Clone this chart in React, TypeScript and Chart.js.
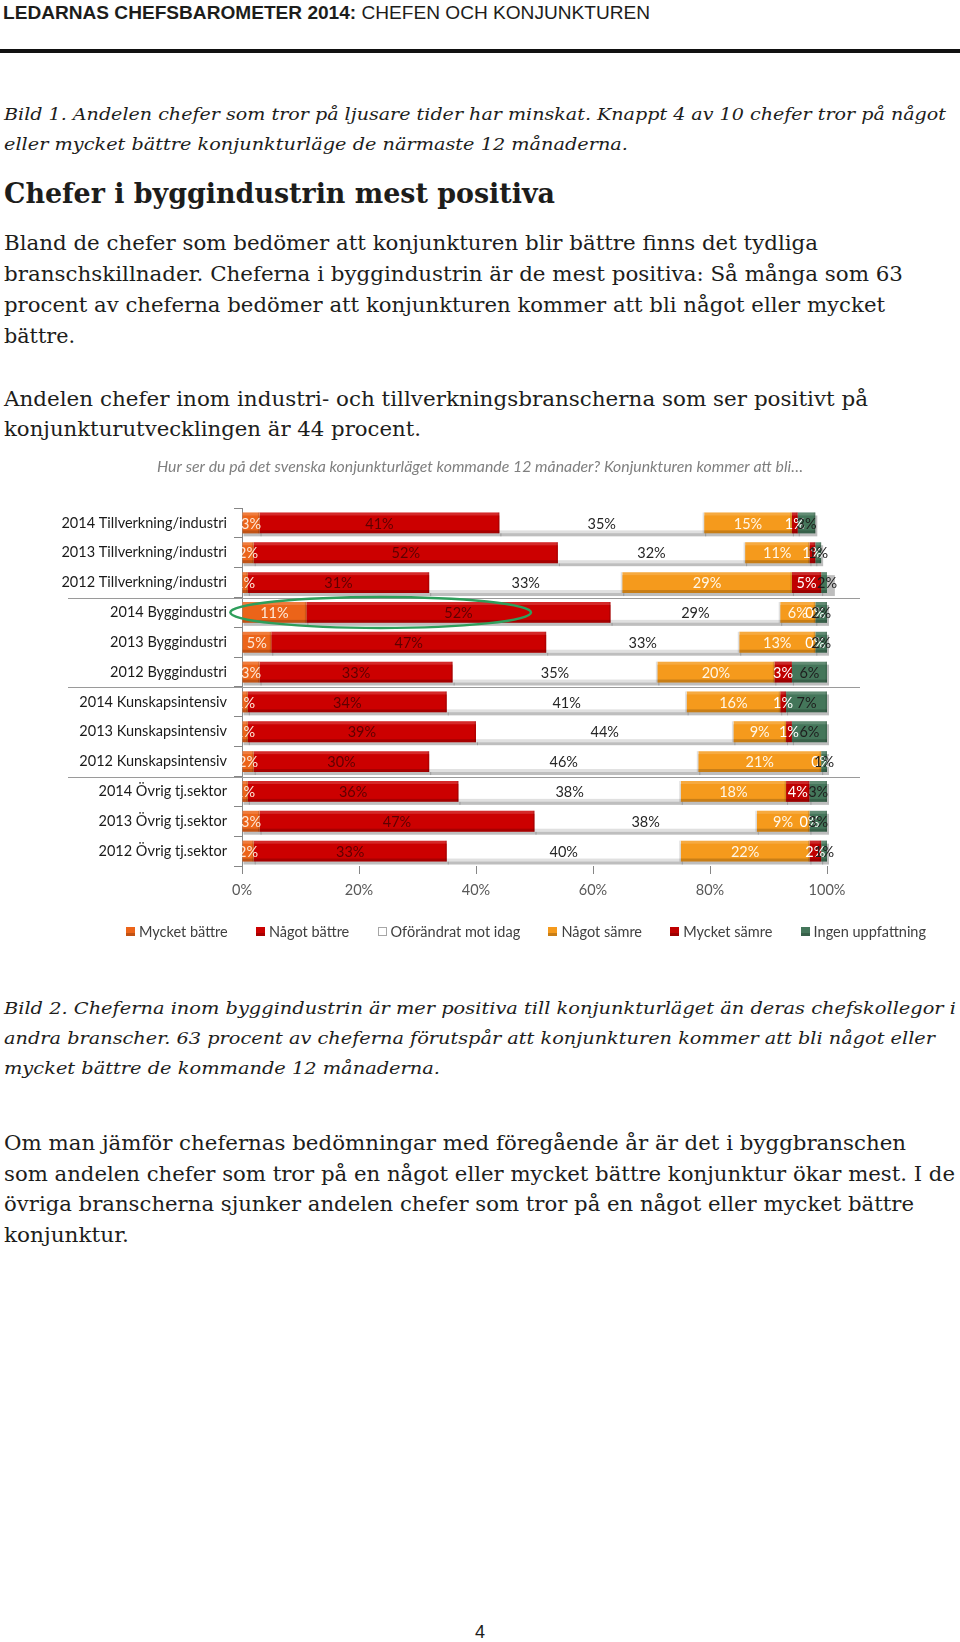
import React, { useEffect, useLayoutEffect, useRef } from "react";
import { Chart, registerables } from "chart.js";

Chart.register(...registerables);

// ---------- chart data ----------
const categories = [
  "2014 Tillverkning/industri",
  "2013 Tillverkning/industri",
  "2012 Tillverkning/industri",
  "2014 Byggindustri",
  "2013 Byggindustri",
  "2012 Byggindustri",
  "2014 Kunskapsintensiv",
  "2013 Kunskapsintensiv",
  "2012 Kunskapsintensiv",
  "2014 Övrig tj.sektor",
  "2013 Övrig tj.sektor",
  "2012 Övrig tj.sektor",
];

const seriesNames = [
  "Mycket bättre",
  "Något bättre",
  "Oförändrat mot idag",
  "Något sämre",
  "Mycket sämre",
  "Ingen uppfattning",
];

const mycketBattre = [3, 2, 1, 11, 5, 3, 1, 1, 2, 1, 3, 2];
const nagotBattre = [41, 52, 31, 52, 47, 33, 34, 39, 30, 36, 47, 33];
const oforandrat = [35, 32, 33, 29, 33, 35, 41, 44, 46, 38, 38, 40];
const nagotSamre = [15, 11, 29, 6, 13, 20, 16, 9, 21, 18, 9, 22];
const mycketSamre = [1, 1, 5, 0, 0, 3, 1, 1, 0, 4, 0, 2];
const ingenUppfattning = [3, 1, 2, 2, 2, 6, 7, 6, 1, 3, 3, 1];

const seriesData = [mycketBattre, nagotBattre, oforandrat, nagotSamre, mycketSamre, ingenUppfattning];

const xTicks = [0, 20, 40, 60, 80, 100];

const chartTitle =
  "Hur ser du på det svenska konjunkturläget kommande 12 månader? Konjunkturen kommer att bli…";

// ---------- styles ----------
const seriesColors = ["#EC6419", "#CC0000", "#FFFFFF", "#F59A1C", "#BF0000", "#44765A"];
const labelColors = ["#FDE8D8", "#5E0000", "#262626", "#FFF6E6", "#FFFFFF", "#1E1E1E"];
const FONT = "Lato, 'Open Sans', sans-serif";
const FS = 14.5;

const decorPlugin = {
  id: "decor",
  beforeDatasetsDraw(chart: any) {
    const ctx = chart.ctx as CanvasRenderingContext2D;
    ctx.save();
    chart.data.datasets.forEach((_: any, di: number) => {
      const meta = chart.getDatasetMeta(di);
      meta.data.forEach((el: any) => {
        const p = el.getProps(["x", "y", "base", "height"], true);
        const left = Math.min(p.x, p.base);
        const w = Math.abs(p.x - p.base);
        if (w <= 0.5) return;
        ctx.fillStyle = "rgba(110,110,110,0.45)";
        ctx.fillRect(left + 1, p.y - p.height / 2 + 3, w + 1, p.height);
      });
    });
    ctx.restore();
  },
  afterDatasetsDraw(chart: any) {
    const ctx = chart.ctx as CanvasRenderingContext2D;
    const area = chart.chartArea;
    ctx.save();
    // bevel
    ctx.beginPath();
    ctx.rect(area.left, area.top, area.right - area.left, area.bottom - area.top);
    ctx.clip();
    chart.data.datasets.forEach((_: any, di: number) => {
      const meta = chart.getDatasetMeta(di);
      meta.data.forEach((el: any) => {
        const p = el.getProps(["x", "y", "base", "height"], true);
        const left = Math.min(p.x, p.base);
        const w = Math.abs(p.x - p.base);
        if (w <= 0.5) return;
        const top = p.y - p.height / 2;
        const bottom = p.y + p.height / 2;
        ctx.fillStyle = "rgba(255,255,255,0.16)";
        ctx.fillRect(left, top, w, 3);
        ctx.fillStyle = di === 2 ? "rgba(0,0,0,0.12)" : "rgba(0,0,0,0.18)";
        ctx.fillRect(left, bottom - 3, w, 3);
        ctx.fillStyle = "rgba(0,0,0,0.12)";
        ctx.fillRect(left + w - 1.5, top, 1.5, p.height);
      });
    });
    ctx.restore();

    // value labels (clipped on the left at the plot area)
    ctx.save();
    ctx.beginPath();
    ctx.rect(area.left, 0, chart.width - area.left, chart.height);
    ctx.clip();
    ctx.font = `${FS}px ${FONT}`;
    ctx.textAlign = "center";
    ctx.textBaseline = "middle";
    chart.data.datasets.forEach((ds: any, di: number) => {
      const meta = chart.getDatasetMeta(di);
      meta.data.forEach((el: any, i: number) => {
        const p = el.getProps(["x", "y", "base"], true);
        const cx = (p.x + p.base) / 2;
        ctx.fillStyle = labelColors[di];
        ctx.fillText(`${ds.data[i]}%`, cx, p.y + 1);
      });
    });
    ctx.restore();
  },
  afterDraw(chart: any) {
    const ctx = chart.ctx as CanvasRenderingContext2D;
    const xs = chart.scales.x;
    const ys = chart.scales.y;
    ctx.save();

    // group separators
    ctx.strokeStyle = "#9a9a9a";
    ctx.lineWidth = 1;
    [2, 5, 8].forEach((i) => {
      const y = Math.round((ys.getPixelForValue(i) + ys.getPixelForValue(i + 1)) / 2) + 0.5;
      ctx.beginPath();
      ctx.moveTo(68, y);
      ctx.lineTo(860, y);
      ctx.stroke();
    });

    // highlight ellipse around 2014 Byggindustri
    const cx = xs.getPixelForValue(23.7);
    const rx = xs.getPixelForValue(49.4) - cx;
    const cy = ys.getPixelForValue(3);
    ctx.strokeStyle = "#2E9E5B";
    ctx.lineWidth = 2.5;
    ctx.beginPath();
    ctx.ellipse(cx, cy, rx, 15.5, 0, 0, Math.PI * 2);
    ctx.stroke();

    // title
    ctx.font = `italic ${FS}px ${FONT}`;
    ctx.fillStyle = "#7F7F7F";
    ctx.textBaseline = "middle";
    ctx.textAlign = "left";
    const tw = ctx.measureText(chartTitle).width;
    ctx.save();
    ctx.translate(157, 27);
    ctx.scale(646 / tw, 1);
    ctx.fillText(chartTitle, 0, 0);
    ctx.restore();

    // legend
    ctx.font = `${FS}px ${FONT}`;
    const box = 9;
    const gap = 4;
    const widths = seriesNames.map((n) => ctx.measureText(n).width);
    const used = widths.reduce((a, w) => a + box + gap + w, 0);
    const startX = 126;
    const endX = 926;
    const spacing = (endX - startX - used) / (seriesNames.length - 1);
    const ly = 491;
    let x = startX;
    seriesNames.forEach((n, i) => {
      const bx = Math.round(x);
      const by = Math.round(ly - box / 2);
      ctx.fillStyle = seriesColors[i];
      ctx.fillRect(bx, by, box, box);
      if (i === 2) {
        ctx.strokeStyle = "#A6A6A6";
        ctx.lineWidth = 1;
        ctx.strokeRect(bx + 0.5, by + 0.5, box - 1, box - 1);
      } else {
        ctx.fillStyle = "rgba(0,0,0,0.18)";
        ctx.fillRect(bx, by + box - 3, box, 3);
      }
      ctx.fillStyle = "#404040";
      ctx.textAlign = "left";
      ctx.fillText(n, x + box + gap, ly + 1);
      x += box + gap + widths[i] + spacing;
    });

    ctx.restore();
  },
};

// ---------- page text ----------
const SERIF = "'DejaVu Serif', 'Liberation Serif', serif";
const SANS = "'Liberation Sans', Arial, sans-serif";

type Line = {
  content: React.ReactNode;
  left: number;
  right: number;
  baseline: number;
  size: number;
  family: string;
  weight?: number;
  italic?: boolean;
  ascent: number;
};

const bild1 = [
  "Bild 1. Andelen chefer som tror på ljusare tider har minskat. Knappt 4 av 10 chefer tror på något",
  "eller mycket bättre konjunkturläge de närmaste 12 månaderna.",
];
const heading = "Chefer i byggindustrin mest positiva";
const para1 = [
  "Bland de chefer som bedömer att konjunkturen blir bättre finns det tydliga",
  "branschskillnader. Cheferna i byggindustrin är de mest positiva: Så många som 63",
  "procent av cheferna bedömer att konjunkturen kommer att bli något eller mycket",
  "bättre.",
];
const para2 = [
  "Andelen chefer inom industri- och tillverkningsbranscherna som ser positivt på",
  "konjunkturutvecklingen är 44 procent.",
];
const bild2 = [
  "Bild 2. Cheferna inom byggindustrin är mer positiva till konjunkturläget än deras chefskollegor i",
  "andra branscher. 63 procent av cheferna förutspår att konjunkturen kommer att bli något eller",
  "mycket bättre de kommande 12 månaderna.",
];
const para3 = [
  "Om man jämför chefernas bedömningar med föregående år är det i byggbranschen",
  "som andelen chefer som tror på en något eller mycket bättre konjunktur ökar mest. I de",
  "övriga branscherna sjunker andelen chefer som tror på en något eller mycket bättre",
  "konjunktur.",
];

const DJ = 0.846; // DejaVu baseline offset at line-height 1
const LS = 0.8465; // Liberation Sans

const lines: Line[] = [
  {
    content: (
      <>
        <b>LEDARNAS CHEFSBAROMETER 2014:</b> CHEFEN OCH KONJUNKTUREN
      </>
    ),
    left: 3, right: 650, baseline: 19.5, size: 18.5, family: SANS, ascent: LS,
  },
  { content: bild1[0], left: 4, right: 946, baseline: 121, size: 17.5, family: SERIF, italic: true, ascent: DJ },
  { content: bild1[1], left: 4, right: 628, baseline: 150.5, size: 17.5, family: SERIF, italic: true, ascent: DJ },
  { content: heading, left: 4, right: 555, baseline: 202.5, size: 27, family: SERIF, weight: 700, ascent: DJ },
  { content: para1[0], left: 4, right: 818, baseline: 250.5, size: 21, family: SERIF, ascent: DJ },
  { content: para1[1], left: 4, right: 903, baseline: 281.6, size: 21, family: SERIF, ascent: DJ },
  { content: para1[2], left: 4, right: 885, baseline: 312.8, size: 21, family: SERIF, ascent: DJ },
  { content: para1[3], left: 4, right: 75, baseline: 344, size: 21, family: SERIF, ascent: DJ },
  { content: para2[0], left: 4, right: 868, baseline: 406.5, size: 21, family: SERIF, ascent: DJ },
  { content: para2[1], left: 4, right: 421, baseline: 437, size: 21, family: SERIF, ascent: DJ },
  { content: bild2[0], left: 4, right: 956, baseline: 1015, size: 17.5, family: SERIF, italic: true, ascent: DJ },
  { content: bild2[1], left: 4, right: 935, baseline: 1045, size: 17.5, family: SERIF, italic: true, ascent: DJ },
  { content: bild2[2], left: 4, right: 440, baseline: 1075, size: 17.5, family: SERIF, italic: true, ascent: DJ },
  { content: para3[0], left: 4, right: 906, baseline: 1151, size: 21, family: SERIF, ascent: DJ },
  { content: para3[1], left: 4, right: 955, baseline: 1181.5, size: 21, family: SERIF, ascent: DJ },
  { content: para3[2], left: 4, right: 914, baseline: 1212, size: 21, family: SERIF, ascent: DJ },
  { content: para3[3], left: 4, right: 129, baseline: 1242.5, size: 21, family: SERIF, ascent: DJ },
];

export default function App() {
  const canvasRef = useRef<HTMLCanvasElement>(null);
  const spanRefs = useRef<(HTMLSpanElement | null)[]>([]);

  useLayoutEffect(() => {
    const fit = () => {
      spanRefs.current.forEach((el, i) => {
        if (!el) return;
        el.style.transform = "none";
        const w = el.getBoundingClientRect().width;
        const target = lines[i].right - lines[i].left;
        if (w > 0) el.style.transform = `scaleX(${target / w})`;
      });
    };
    fit();
    const fonts: any = (document as any).fonts;
    if (fonts && fonts.ready) fonts.ready.then(fit);
  }, []);

  useEffect(() => {
    const canvas = canvasRef.current;
    if (!canvas) return;
    Chart.defaults.font.family = FONT;
    const chart = new Chart(canvas, {
      type: "bar",
      data: {
        labels: categories,
        datasets: seriesNames.map((name, i) => ({
          label: name,
          data: seriesData[i],
          backgroundColor: seriesColors[i],
          borderWidth: 0,
          barPercentage: 0.7,
          categoryPercentage: 1,
        })),
      },
      options: {
        indexAxis: "y",
        responsive: false,
        animation: false,
        devicePixelRatio: 1,
        layout: { padding: { top: 68, left: 0, right: 133, bottom: 54 } },
        plugins: {
          legend: { display: false },
          title: { display: false },
          tooltip: { enabled: false },
        },
        scales: {
          x: {
            stacked: true,
            min: 0,
            max: 100,
            afterBuildTicks: (s: any) => {
              s.ticks = xTicks.map((v) => ({ value: v }));
            },
            ticks: {
              callback: (v: any) => `${v}%`,
              color: "#595959",
              font: { size: FS, family: FONT },
              padding: 8,
              maxRotation: 0,
            },
            grid: { drawOnChartArea: false, drawTicks: true, tickLength: 8, color: "#868686" },
            border: { display: false },
            afterFit: (s: any) => {
              s.height = 40;
            },
          },
          y: {
            stacked: true,
            ticks: {
              color: "#1A1A1A",
              font: { size: FS, family: FONT },
              padding: 7,
              autoSkip: false,
            },
            grid: { drawOnChartArea: false, drawTicks: true, tickLength: 8, color: "#868686", offset: true },
            border: { display: true, color: "#868686" },
            afterFit: (s: any) => {
              s.width = 242;
            },
          },
        },
      } as any,
      plugins: [decorPlugin],
    });
    return () => chart.destroy();
  }, []);

  return (
    <div
      style={{
        position: "absolute",
        left: 0,
        top: 0,
        width: 960,
        height: 1642,
        background: "#FFFFFF",
        overflow: "hidden",
        color: "#1D1D1B",
      }}
    >
      {lines.map((l, i) => (
        <div
          key={i}
          style={{
            position: "absolute",
            left: l.left,
            top: l.baseline - l.ascent * l.size,
            height: l.size,
            lineHeight: `${l.size}px`,
            whiteSpace: "nowrap",
          }}
        >
          <span
            ref={(el) => {
              spanRefs.current[i] = el;
            }}
            style={{
              display: "inline-block",
              whiteSpace: "pre",
              fontFamily: l.family,
              fontSize: l.size,
              fontWeight: l.weight ?? 400,
              fontStyle: l.italic ? "italic" : "normal",
              transformOrigin: "0 0",
            }}
          >
            {l.content}
          </span>
        </div>
      ))}
      <div
        style={{
          position: "absolute",
          left: 0,
          top: 49,
          width: 960,
          height: 4,
          background: "#111111",
        }}
      />
      <canvas
        ref={canvasRef}
        width={960}
        height={520}
        style={{ position: "absolute", left: 0, top: 440, width: 960, height: 520, display: "block" }}
      />
      <div
        style={{
          position: "absolute",
          left: 0,
          width: 960,
          top: 1638 - 0.8465 * 18,
          height: 18,
          lineHeight: "18px",
          textAlign: "center",
          fontFamily: SANS,
          fontSize: 18,
          color: "#1D1D1B",
        }}
      >
        4
      </div>
    </div>
  );
}
